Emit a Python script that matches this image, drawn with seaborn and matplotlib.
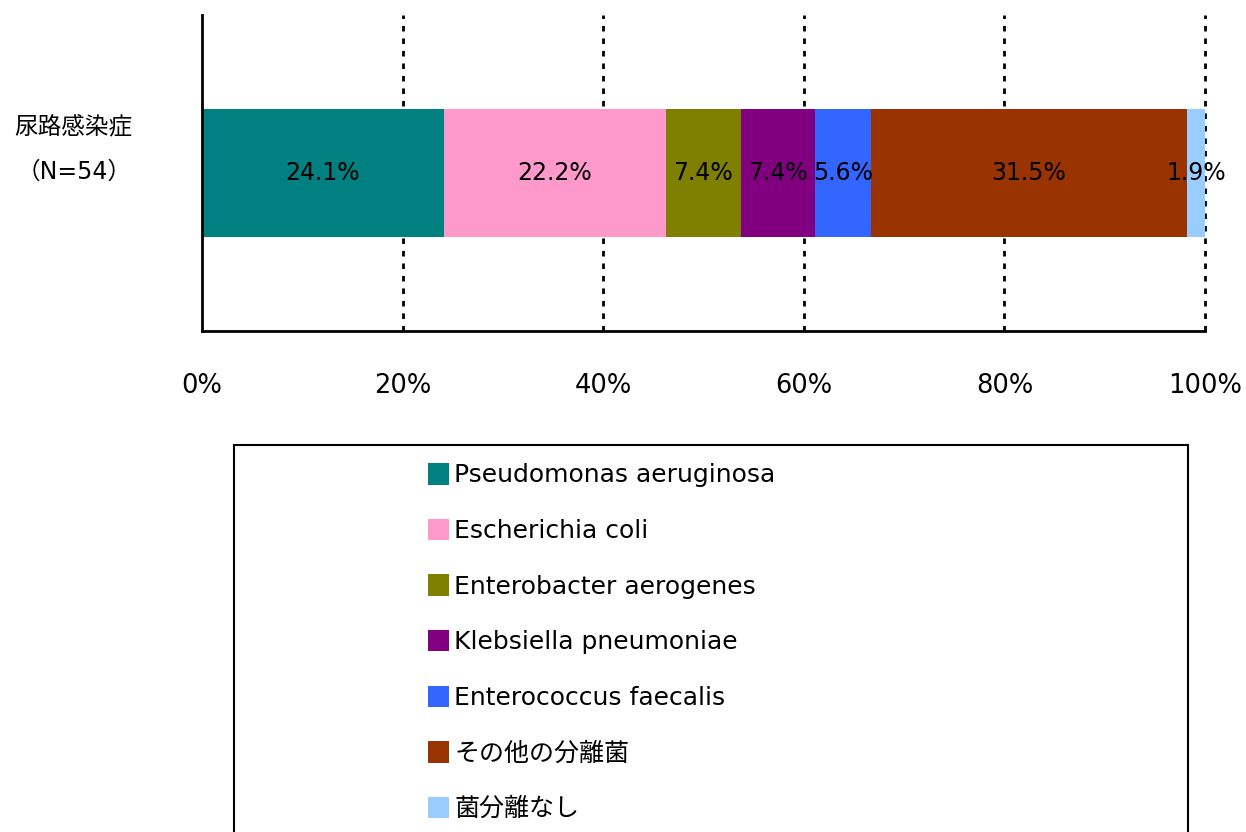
import matplotlib
matplotlib.use("Agg")
import matplotlib.pyplot as plt
import seaborn as sns
import numpy as np
from matplotlib.patches import Rectangle, Patch

# Data
category = "尿路感染症\n（N=54）"
organisms = ["Pseudomonas aeruginosa", "Escherichia coli", "Enterobacter aerogenes",
             "Klebsiella pneumoniae", "Enterococcus faecalis", "その他の分離菌", "菌分離なし"]
shares = [24.1, 22.2, 7.4, 7.4, 5.6, 31.5, 1.9]
colors = ["#008080", "#FF99CC", "#808000", "#800080", "#3366FF", "#993300", "#99CCFF"]
xticks = [0, 20, 40, 60, 80, 100]

sns.set_style("white")
plt.rcParams["font.family"] = ["DejaVu Sans", "Noto Sans CJK JP"]
plt.rcParams["text.color"] = "black"
plt.rcParams["xtick.color"] = "black"

fig = plt.figure(figsize=(12.46, 8.32), dpi=100)
ax = fig.add_axes([202 / 1246, 1 - 331 / 832, (1205 - 202) / 1246, (331 - 15) / 832])

# Stacked bar: draw cumulative bars from the longest to the shortest
cum = np.cumsum(shares)
for i in range(len(shares) - 1, -1, -1):
    sns.barplot(x=[cum[i]], y=[category], color=colors[i], width=0.405,
                orient="h", ax=ax, zorder=2, saturation=1, linewidth=0)

# Value labels
starts = cum - np.array(shares)
for s, v in zip(starts, shares):
    ax.text(s + v / 2, 0, f"{v:.1f}%", ha="center", va="center", fontsize=17,
            color="black", zorder=3)

ax.set_xlim(0, 100)
ax.set_ylim(0.5, -0.5)
ax.set_xticks(xticks)
ax.set_xticklabels([f"{t}%" for t in xticks], fontsize=18.5)
ax.tick_params(axis="x", length=0, pad=30, colors="black")
ax.set_yticks([])
ax.set_xlabel("")
ax.set_ylabel("")

# Grid
for t in xticks[1:]:
    ax.axvline(t, color="black", linestyle=(0, (2, 2.5)), linewidth=2, zorder=1,
               clip_on=False)

for side in ["top", "right"]:
    ax.spines[side].set_visible(False)
for side in ["left", "bottom"]:
    ax.spines[side].set_color("black")
    ax.spines[side].set_linewidth(2)

# Category label
fig.text(132 / 1246, 1 - 149 / 832, category, ha="right", va="center",
         multialignment="right", fontsize=17, linespacing=2.1, color="black")

# Legend box
fig.patches.append(Rectangle((234 / 1246, -0.05), (1188 - 234) / 1246, 1 - 445 / 832 + 0.05,
                             transform=fig.transFigure, fill=False, edgecolor="black",
                             linewidth=1.5))
handles = [Patch(facecolor=c, edgecolor="none") for c in colors]
leg = fig.legend(handles, organisms, loc="upper left",
                 bbox_to_anchor=(428 / 1246, 1 - 463 / 832),
                 frameon=False, fontsize=18, handlelength=0.85, handleheight=0.95,
                 handletextpad=0.2, labelspacing=1.25, borderaxespad=0, borderpad=0)
for t in leg.get_texts():
    t.set_color("black")

fig.savefig("out.png", dpi=100)
